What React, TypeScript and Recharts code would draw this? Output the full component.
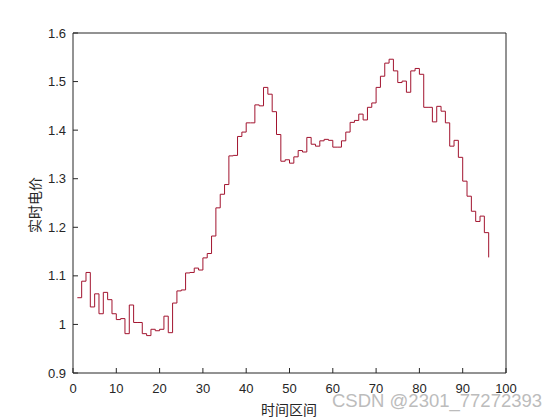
import { LineChart, Line, XAxis, YAxis } from "recharts";

// 实时电价, one value per interval (stairs)
const prices = [
  1.055, 1.089, 1.107, 1.036, 1.063, 1.022, 1.066, 1.051, 1.022, 1.01,
  1.012, 0.981, 1.04, 1.004, 1.004, 0.981, 0.977, 0.99, 0.987, 0.99,
  1.017, 0.983, 1.044, 1.069, 1.071, 1.106, 1.107, 1.116, 1.112, 1.137,
  1.146, 1.182, 1.24, 1.268, 1.288, 1.347, 1.348, 1.387, 1.396, 1.415,
  1.415, 1.452, 1.45, 1.488, 1.474, 1.438, 1.391, 1.336, 1.339, 1.332,
  1.345, 1.358, 1.355, 1.385, 1.371, 1.367, 1.378, 1.381, 1.379, 1.365,
  1.365, 1.378, 1.396, 1.416, 1.42, 1.433, 1.421, 1.447, 1.456, 1.488,
  1.511, 1.538, 1.546, 1.522, 1.498, 1.501, 1.478, 1.522, 1.527, 1.515,
  1.447, 1.447, 1.417, 1.449, 1.439, 1.415, 1.367, 1.379, 1.344, 1.295,
  1.264, 1.233, 1.212, 1.223, 1.189, 1.138,
];

const xTicks = [0, 10, 20, 30, 40, 50, 60, 70, 80, 90, 100];
const yTicks = [0.9, 1, 1.1, 1.2, 1.3, 1.4, 1.5, 1.6];

const data = prices.map((p, i) => ({ t: i + 1, price: p }));

const axisColor = "#262626";
const tickStyle = { fill: axisColor, fontSize: 13 };

export default function App() {
  return (
    <div
      style={{
        position: "absolute",
        left: 0,
        top: 0,
        width: 560,
        height: 420,
        background: "#fff",
        fontFamily: "'Liberation Sans', Arial, sans-serif",
      }}
    >
      <LineChart
        width={560}
        height={420}
        data={data}
        margin={{ top: 33, right: 54, bottom: 0, left: 0 }}
      >
        <XAxis
          dataKey="t"
          type="number"
          domain={[0, 100]}
          ticks={xTicks}
          interval={0}
          height={47}
          tickSize={-5}
          tickMargin={16}
          stroke={axisColor}
          tick={tickStyle}
        />
        <XAxis
          xAxisId="top"
          orientation="top"
          mirror
          dataKey="t"
          type="number"
          domain={[0, 100]}
          ticks={xTicks}
          interval={0}
          tick={false}
          tickSize={5}
          stroke={axisColor}
        />
        <YAxis
          type="number"
          domain={[0.9, 1.6]}
          ticks={yTicks}
          interval={0}
          width={73}
          tickSize={-5}
          tickMargin={12}
          stroke={axisColor}
          tick={tickStyle}
        />
        <YAxis
          yAxisId="right"
          orientation="right"
          mirror
          type="number"
          domain={[0.9, 1.6]}
          ticks={yTicks}
          interval={0}
          tick={false}
          tickSize={5}
          stroke={axisColor}
        />
        <Line
          type="stepAfter"
          dataKey="price"
          stroke="#A2142F"
          strokeWidth={1}
          dot={false}
          isAnimationActive={false}
        />
      </LineChart>

      <div
        style={{
          position: "absolute",
          left: 34,
          top: 205,
          transform: "translate(-50%, -50%) rotate(-90deg)",
          fontFamily: "'Noto Sans CJK SC', sans-serif",
          fontSize: 14,
          color: axisColor,
          whiteSpace: "nowrap",
        }}
      >
        实时电价
      </div>
      <div
        style={{
          position: "absolute",
          left: 289,
          top: 409,
          transform: "translate(-50%, -50%)",
          fontFamily: "'Noto Sans CJK SC', sans-serif",
          fontSize: 14,
          color: axisColor,
          whiteSpace: "nowrap",
        }}
      >
        时间区间
      </div>
      <div
        style={{
          position: "absolute",
          left: 332,
          top: 390,
          fontSize: 18.5,
          color: "#bcbcbc",
          whiteSpace: "nowrap",
        }}
      >
        CSDN @2301_77272393
      </div>
    </div>
  );
}
